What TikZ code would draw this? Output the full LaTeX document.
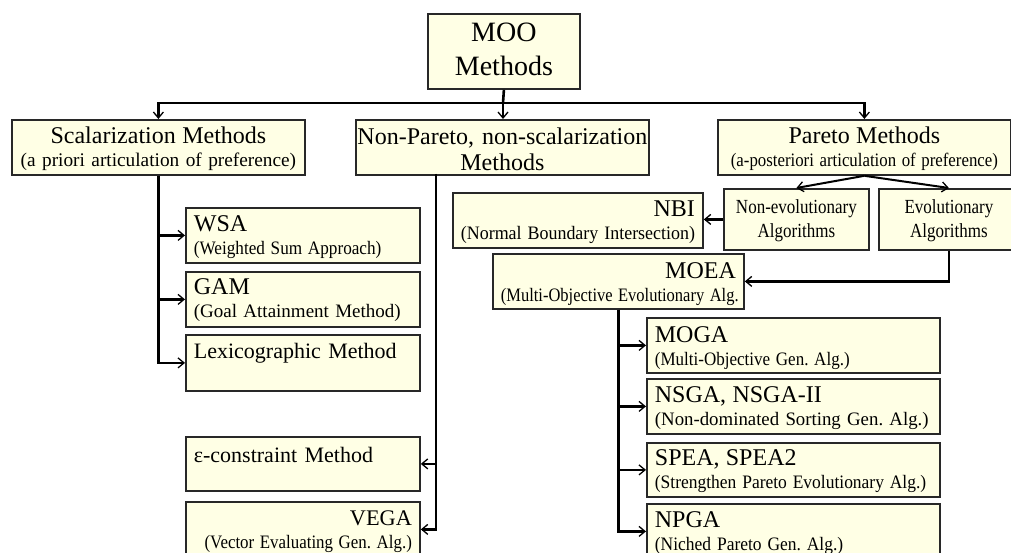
\documentclass[tikz,border=0pt]{standalone}
\usepackage{fontspec}
\setmainfont{Liberation Serif}
\usepackage{graphicx}
\usetikzlibrary{arrows.meta}
\definecolor{boxfill}{RGB}{255,255,229}
\definecolor{boxline}{RGB}{40,40,40}
\newcommand\fsz[2]{\fontsize{#1}{#2}\selectfont}
\newcommand\sqz[2]{\scalebox{#1}[1]{#2}}
\frenchspacing
\begin{document}
\frenchspacing
\begin{tikzpicture}[x=1pt,y=-1pt,
  box/.style={draw=boxline, fill=boxfill, line width=1.8pt, inner ysep=0pt, inner xsep=8pt,
              anchor=north west, font=\fsz{19}{23}\frenchspacing},
  lbox/.style={box, align=left},
  rbox/.style={box, align=right},
  cbox/.style={box, align=center, inner xsep=2pt},
  wire/.style={line width=2.6pt, draw=black},
  conn/.style={wire, -{Straight Barb[length=6pt,width=10pt,line width=1.3pt]}}
]
\useasboundingbox (0,0) rectangle (1011,553);
\clip (0,0) rectangle (1011,553);

% top
\node[cbox, text width=148pt, text height=28pt, text depth=47pt, font=\fsz{28}{34}] (moo) at (427,13) {MOO\\Methods};

% level 1
\node[cbox, text width=289pt, text height=24pt, text depth=31pt, font=\fsz{19.3}{23}] (sc) at (11,119)
  {{\fsz{24}{24}Scalarization Methods}\\(a priori articulation of preference)};
\node[cbox, inner xsep=1pt, text width=291pt, text height=25pt, text depth=30pt, font=\fsz{24}{26}] (np) at (355,119)
  {Non-Pareto, non-scalarization\\Methods};
\node[cbox, text width=289pt, text height=24pt, text depth=31pt] (pa) at (717,119)
  {{\fsz{24}{24}Pareto Methods}\\\sqz{0.885}{(a-posteriori articulation of preference)}};

% scalarization children
\node[lbox, text width=218pt, text height=24pt, text depth=31pt] (wsa) at (185,207)
  {{\fsz{24}{24}WSA}\\\sqz{0.904}{(Weighted Sum Approach)}};
\node[lbox, text width=218pt, text height=23pt, text depth=32pt] (gam) at (185,271)
  {{\fsz{24}{24}GAM}\\(Goal Attainment Method)};
\node[lbox, text width=218pt, text height=24pt, text depth=32pt, font=\fsz{22}{22}] (lex) at (185,334)
  {Lexicographic Method};

% non-pareto children
\node[lbox, text width=218pt, text height=26pt, text depth=28pt, font=\fsz{22}{22}] (eps) at (185,436)
  {ε-constraint Method};
\node[rbox, text width=218pt, text height=24pt, text depth=31pt] (vega) at (185,501)
  {{\fsz{22.3}{22.3}VEGA}\\\sqz{0.889}{(Vector Evaluating Gen. Alg.)}};

% pareto children
\node[cbox, text width=141pt, text height=25pt, text depth=36pt, font=\fsz{20}{24}] (ne) at (723,188)
  {\sqz{0.85}{Non-evolutionary}\\\sqz{0.85}{Algorithms}};
\node[cbox, text width=136pt, text height=25pt, text depth=36pt, font=\fsz{20}{24}] (ev) at (878,188)
  {\sqz{0.85}{Evolutionary}\\\sqz{0.85}{Algorithms}};
\node[rbox, text width=234pt, text height=24pt, text depth=31pt] (nbi) at (452,192)
  {{\fsz{24}{24}NBI}\\\sqz{0.944}{(Normal Boundary Intersection)}};
\node[rbox, text width=235pt, text height=25pt, text depth=30pt] (moea) at (492,253)
  {{\fsz{24}{24}MOEA}\\\sqz{0.868}{(Multi-Objective Evolutionary Alg.}};

% MOEA children
\node[lbox, text width=277pt, text height=25pt, text depth=30pt] (moga) at (646,317)
  {{\fsz{24}{24}MOGA}\\\sqz{0.896}{(Multi-Objective Gen. Alg.)}};
\node[lbox, text width=277pt, text height=24pt, text depth=31pt] (nsga) at (646,378)
  {{\fsz{24}{24}NSGA, NSGA-II}\\\sqz{0.99}{(Non-dominated Sorting Gen. Alg.)}};
\node[lbox, text width=277pt, text height=23pt, text depth=31pt] (spea) at (646,442)
  {{\fsz{24}{24}SPEA, SPEA2}\\\sqz{0.92}{(Strengthen Pareto Evolutionary Alg.)}};
\node[lbox, text width=277pt, text height=24pt, text depth=31pt] (npga) at (646,503)
  {{\fsz{24}{24}NPGA}\\\sqz{0.92}{(Niched Pareto Gen. Alg.)}};

% connectors
\coordinate (hub) at (503,103);
\draw[wire] (moo.south) -- (hub);
\draw[conn] (hub) -| (sc.north);
\draw[conn] (hub) -| (pa.north);
\draw[conn] (hub) -- (hub |- np.north);

\draw[conn] (sc.south) |- (wsa.west);
\draw[conn] (sc.south) |- (gam.west);
\draw[conn] (sc.south) |- (lex.west);

\coordinate (npb) at (436,174);
\draw[conn] (npb) |- (eps.east);
\draw[conn] (npb) |- (vega.east);

\draw[conn, line width=2pt] (pa.south) -- (ne.north);
\draw[conn, line width=2pt] (pa.south) -- (ev.north);
\draw[conn] (ne.west) -- (ne.west -| nbi.east);
\draw[conn] (ev.south) |- (moea.east);

\draw[conn] (moea.south) |- (moga.west);
\draw[conn] (moea.south) |- (nsga.west);
\draw[conn] (moea.south) |- (spea.west);
\draw[conn] (moea.south) |- (npga.west);
\end{tikzpicture}
\end{document}
